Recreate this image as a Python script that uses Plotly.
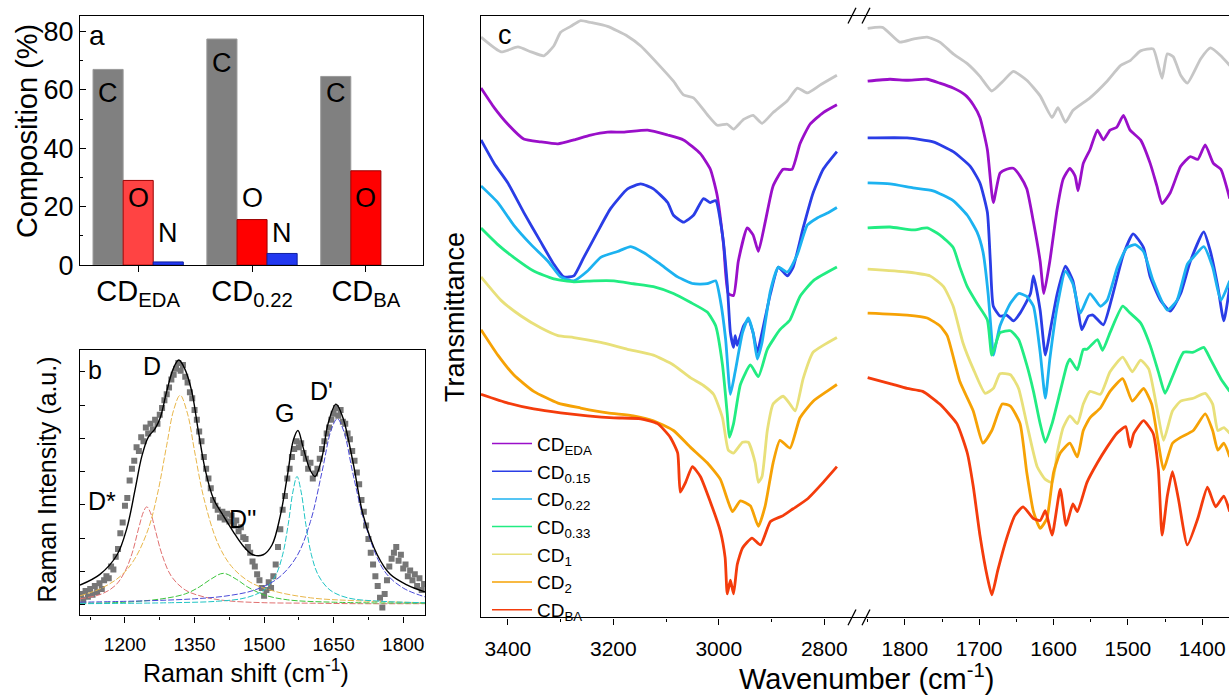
import plotly.graph_objects as go

W, H = 1229, 695
FONT = "Liberation Sans, Arial, sans-serif"

def PX(x):
    return x / W

def PY(y):
    return 1 - y / H

# ---------------- Panel a : elemental composition ----------------
SAMPLES = ["CD_EDA", "CD_0.22", "CD_BA"]
SAMPLE_TEXT = ["CD<sub>EDA</sub>", "CD<sub>0.22</sub>", "CD<sub>BA</sub>"]
C_PCT = [67.0, 77.4, 64.6]
O_PCT = [29.0, 15.6, 32.3]
N_PCT = [1.1, 4.0, 0.0]
O_COLORS = ["#ff4343", "#ff0000", "#ff0000"]

# ---------------- Panel b : Raman ----------------
RAMAN_SHIFT = list(range(1105, 1850, 5))
RAMAN_INT = [22, 16, 25, 19, 27, 21, 30, 24, 33, 27, 36, 40, 38, 50, 47, 60, 68, 84, 95, 112,
             120, 138, 150, 158, 172, 168, 182, 178, 192, 186, 196, 190, 200, 196, 205, 212, 220, 226, 233, 241,
             246, 252, 258, 250, 256, 244, 238, 228, 222, 210, 200, 188, 178, 162, 150, 140, 130, 118, 112, 108,
             100, 106, 98, 104, 96, 102, 92, 97, 86, 90, 80, 78, 70, 64, 55, 50, 42, 36, 28, 20,
             26, 34, 28, 40, 52, 70, 88, 108, 122, 140, 150, 162, 170, 178, 172, 176, 166, 160, 150, 156,
             140, 145, 150, 160, 170, 178, 186, 192, 200, 206, 212, 204, 210, 198, 196, 186, 180, 168, 158, 146,
             134, 118, 106, 92, 78, 64, 52, 40, 30, 18, 8, 22, 36, 50, 58, 64, 70, 56, 62, 48,
             52, 40, 46, 36, 42, 30, 38, 26, 32]
assert len(RAMAN_SHIFT) == len(RAMAN_INT)

FIT_X = [1103, 1146, 1183, 1204, 1222, 1236, 1250, 1265, 1276, 1290, 1304, 1316, 1329, 1344, 1358, 1373,
         1391, 1412, 1433, 1455, 1476, 1498, 1517, 1535, 1550, 1563, 1573, 1584, 1599, 1610, 1625, 1638,
         1655, 1670, 1692, 1714, 1744, 1772, 1809, 1847]
FIT_Y = [31, 42, 62, 89, 129, 162, 182, 191, 202, 229, 252, 261, 252, 229, 189, 149,
         119, 102, 86, 71, 62, 62, 72, 102, 142, 179, 189, 172, 149, 142, 162, 196,
         216, 202, 156, 102, 62, 42, 31, 24]

DSTAR_X = [1103, 1150, 1180, 1200, 1215, 1230, 1240, 1247, 1255, 1265, 1280, 1300, 1330, 1370, 1420, 1500, 1600, 1700, 1847]
DSTAR_Y = [17, 22, 31, 45, 63, 90, 106, 111, 105, 88, 62, 40, 26, 19, 15, 13, 12.5, 12, 12]
D_X = [1103, 1150, 1190, 1220, 1250, 1270, 1290, 1305, 1319, 1335, 1350, 1370, 1400, 1430, 1470, 1520, 1600, 1700, 1847]
D_Y = [20, 28, 40, 57, 88, 124, 174, 210, 225, 206, 168, 120, 74, 50, 34, 25, 18, 15, 13]
DDP_X = [1103, 1200, 1280, 1330, 1360, 1385, 1412, 1440, 1465, 1500, 1550, 1650, 1847]
DDP_Y = [12.5, 13.5, 17, 22, 29, 37, 43, 37, 29, 21, 16, 13.5, 12.5]
G_X = [1103, 1300, 1400, 1460, 1500, 1525, 1540, 1552, 1562, 1571, 1580, 1590, 1602, 1617, 1642, 1680, 1750, 1847]
G_Y = [12, 13, 14.5, 18, 26, 41, 62, 93, 126, 142, 126, 93, 62, 41, 26, 18, 14.5, 13]
DP_X = [1103, 1250, 1350, 1420, 1480, 1530, 1570, 1600, 1625, 1645, 1658, 1672, 1692, 1720, 1760, 1800, 1847]
DP_Y = [13.5, 15, 17, 20, 26, 38, 60, 96, 147, 190, 201, 188, 144, 90, 45, 28, 19]

# ---------------- Panel c : FTIR ----------------
GRAY_L_WN = [3451, 3413, 3381, 3356, 3332, 3313, 3300, 3281, 3262, 3243, 3211, 3173, 3148, 3116, 3086, 3067, 3048,
             3022, 3003, 2984, 2972, 2953, 2935, 2918, 2897, 2870, 2851, 2832, 2808, 2776]
GRAY_L_T = [593, 578, 583, 578, 574, 584, 598, 604, 610, 608, 604, 594, 584, 566, 548, 534, 531,
            514, 503, 504, 499, 509, 513, 505, 516, 528, 541, 536, 544, 554]
GRAY_R_WN = [1850, 1830, 1807, 1789, 1770, 1753, 1735, 1716, 1699, 1683, 1668, 1654, 1636, 1618, 1602, 1594, 1584,
             1574, 1551, 1528, 1510, 1497, 1483, 1466, 1459, 1454, 1447, 1439, 1429, 1420, 1402, 1389, 1375, 1363]
GRAY_R_T = [602, 603, 588, 591, 593, 588, 576, 566, 553, 538, 548, 558, 549, 533, 511, 521, 506,
            518, 531, 548, 564, 569, 579, 581, 564, 551, 576, 573, 554, 546, 571, 582, 574, 564]

EDA_L_WN = [3451, 3426, 3400, 3370, 3338, 3305, 3275, 3243, 3211, 3181, 3135, 3097, 3067, 3035, 3016, 3003, 2991,
            2982, 2972, 2963, 2946, 2935, 2925, 2912, 2897, 2878, 2861, 2846, 2827, 2802, 2776]
EDA_L_T = [541, 521, 504, 489, 486, 484, 488, 493, 496, 496, 498, 493, 488, 474, 458, 431, 381,
           331, 329, 364, 398, 391, 374, 404, 441, 458, 458, 484, 504, 516, 524]
EDA_R_WN = [1850, 1820, 1797, 1770, 1753, 1735, 1719, 1708, 1699, 1689, 1681, 1672, 1663, 1654, 1645, 1636, 1627,
            1618, 1613, 1605, 1595, 1587, 1578, 1571, 1567, 1560, 1551, 1541, 1533, 1524, 1515, 1506, 1497, 1483,
            1470, 1461, 1454, 1443, 1429, 1416, 1406, 1396, 1385, 1375, 1363]
EDA_R_T = [548, 550, 549, 550, 546, 541, 534, 524, 511, 478, 424, 454, 458, 459, 451, 438, 404,
           364, 331, 364, 418, 448, 459, 451, 436, 464, 478, 498, 488, 498, 501, 513, 498, 488,
           464, 441, 423, 434, 461, 471, 468, 483, 464, 458, 428]

B015_L_WN = [3451, 3426, 3400, 3370, 3338, 3313, 3294, 3275, 3256, 3230, 3205, 3173, 3148, 3124, 3097, 3086, 3067,
             3048, 3029, 3016, 3006, 2993, 2984, 2978, 2972, 2969, 2965, 2953, 2944, 2935, 2927, 2918, 2902, 2887,
             2870, 2859, 2840, 2821, 2802, 2776]
B015_L_T = [488, 464, 444, 414, 384, 361, 348, 349, 368, 394, 418, 438, 443, 438, 424, 411, 404,
            411, 428, 424, 426, 391, 341, 291, 276, 288, 278, 298, 304, 291, 271, 291, 331, 358,
            349, 358, 398, 434, 458, 476]
B015_R_WN = [1850, 1797, 1762, 1735, 1712, 1699, 1689, 1685, 1681, 1672, 1663, 1654, 1645, 1631, 1627, 1618, 1611,
             1605, 1595, 1584, 1574, 1567, 1562, 1553, 1547, 1533, 1520, 1506, 1493, 1479, 1470, 1456, 1443, 1429,
             1416, 1398, 1389, 1379, 1371, 1363]
B015_R_T = [490, 490, 486, 476, 461, 444, 414, 364, 318, 308, 309, 303, 311, 331, 349, 314, 268,
            291, 331, 359, 344, 314, 294, 308, 309, 299, 331, 371, 392, 378, 348, 324, 313, 331,
            364, 394, 374, 338, 303, 338]

B022_L_WN = [3451, 3419, 3389, 3356, 3324, 3300, 3275, 3249, 3224, 3192, 3167, 3143, 3111, 3078, 3048, 3022, 3006,
             2997, 2987, 2978, 2969, 2955, 2944, 2935, 2927, 2918, 2902, 2887, 2870, 2851, 2832, 2814, 2795, 2776]
B022_L_T = [441, 424, 401, 381, 364, 348, 344, 354, 368, 374, 379, 373, 361, 348, 341, 341, 344,
            324, 284, 228, 251, 291, 306, 291, 264, 281, 334, 358, 353, 371, 401, 408, 413, 419]
B022_R_WN = [1850, 1820, 1789, 1762, 1735, 1716, 1703, 1695, 1688, 1683, 1681, 1672, 1658, 1647, 1636, 1627, 1618,
             1611, 1605, 1595, 1584, 1574, 1564, 1551, 1537, 1528, 1514, 1501, 1490, 1479, 1466, 1447, 1434, 1420,
             1412, 1398, 1386, 1375, 1363]
B022_R_T = [444, 443, 439, 436, 426, 411, 394, 374, 331, 284, 268, 298, 321, 331, 328, 318, 271,
            224, 264, 318, 354, 341, 311, 331, 318, 324, 358, 378, 381, 374, 344, 314, 324, 361,
            368, 379, 358, 324, 344]

B033_L_WN = [3451, 3419, 3389, 3351, 3313, 3275, 3237, 3199, 3162, 3124, 3086, 3054, 3022, 3006, 2993, 2984, 2980,
             2972, 2959, 2940, 2925, 2908, 2884, 2865, 2846, 2821, 2776]
B033_L_T = [398, 381, 368, 354, 346, 343, 344, 344, 341, 338, 331, 322, 312, 298, 258, 208, 184,
            198, 238, 258, 246, 274, 294, 304, 328, 344, 358]
B033_R_WN = [1850, 1820, 1789, 1770, 1753, 1735, 1726, 1716, 1703, 1689, 1683, 1672, 1658, 1647, 1636, 1627, 1618,
             1611, 1602, 1591, 1582, 1578, 1568, 1560, 1555, 1541, 1534, 1524, 1507, 1497, 1483, 1470, 1459, 1450,
             1439, 1425, 1412, 1398, 1389, 1375, 1363]
B033_R_T = [398, 399, 396, 398, 391, 378, 358, 338, 321, 304, 268, 291, 293, 284, 258, 231, 198,
            179, 198, 231, 258, 264, 253, 274, 274, 284, 273, 291, 318, 311, 301, 278, 251, 229,
            248, 271, 271, 276, 264, 244, 231]

CD1_L_WN = [3451, 3413, 3375, 3338, 3305, 3275, 3224, 3173, 3124, 3086, 3054, 3029, 3010, 2993, 2982, 2972, 2955,
            2944, 2931, 2925, 2918, 2908, 2897, 2878, 2865, 2855, 2840, 2821, 2802, 2776]
CD1_L_T = [348, 324, 308, 296, 288, 286, 281, 274, 268, 258, 245, 237, 228, 204, 171, 168, 179,
           179, 158, 138, 144, 191, 218, 226, 218, 211, 244, 271, 278, 286]
CD1_R_WN = [1850, 1797, 1766, 1748, 1735, 1722, 1708, 1692, 1681, 1672, 1658, 1647, 1636, 1622, 1611, 1602, 1595,
            1587, 1578, 1568, 1560, 1551, 1537, 1524, 1507, 1494, 1483, 1472, 1461, 1452, 1440, 1429, 1412, 1396,
            1386, 1379, 1371, 1363]
CD1_R_T = [356, 353, 349, 338, 318, 281, 254, 229, 234, 249, 248, 234, 198, 154, 141, 138, 168,
           194, 206, 198, 218, 231, 228, 251, 266, 251, 263, 254, 214, 181, 211, 221, 224, 229,
           218, 191, 194, 188]

CD2_L_WN = [3451, 3419, 3389, 3351, 3305, 3262, 3211, 3162, 3124, 3086, 3054, 3022, 2997, 2984, 2974, 2959, 2940,
            2925, 2912, 2897, 2884, 2865, 2846, 2821, 2795, 2776]
CD2_L_T = [294, 268, 248, 231, 219, 214, 209, 206, 201, 191, 174, 158, 141, 121, 108, 119, 114,
           93, 114, 158, 181, 173, 204, 221, 231, 238]
CD2_R_WN = [1850, 1797, 1770, 1753, 1743, 1726, 1708, 1695, 1683, 1669, 1658, 1645, 1636, 1627, 1618, 1609, 1600,
            1591, 1578, 1568, 1560, 1551, 1537, 1524, 1507, 1494, 1479, 1468, 1459, 1452, 1440, 1429, 1412, 1396,
            1386, 1379, 1371, 1363]
CD2_R_T = [311, 309, 306, 298, 288, 241, 211, 178, 191, 218, 216, 198, 148, 108, 91, 101, 148,
           168, 178, 164, 191, 204, 214, 231, 244, 221, 234, 218, 178, 151, 178, 184, 191, 208,
           191, 171, 178, 164]

BA_L_WN = [3451, 3400, 3351, 3300, 3249, 3199, 3148, 3116, 3092, 3078, 3073, 3063, 3050, 3035, 3016, 2997, 2988,
           2984, 2978, 2972, 2965, 2955, 2937, 2921, 2902, 2878, 2859, 2832, 2802, 2776]
BA_L_T = [228, 219, 213, 209, 206, 204, 203, 198, 184, 168, 128, 138, 154, 144, 118, 88, 61,
          24, 38, 24, 54, 71, 81, 74, 98, 104, 111, 121, 138, 154]
BA_R_WN = [1850, 1820, 1797, 1776, 1753, 1730, 1716, 1708, 1699, 1689, 1683, 1675, 1663, 1652, 1641, 1627, 1618,
           1611, 1602, 1591, 1583, 1574, 1568, 1555, 1541, 1528, 1515, 1503, 1497, 1492, 1479, 1466, 1459, 1454,
           1447, 1440, 1432, 1420, 1406, 1393, 1382, 1371, 1363]
BA_R_T = [245, 239, 234, 231, 218, 198, 168, 134, 84, 41, 23, 48, 81, 104, 113, 101, 99,
          109, 84, 131, 94, 116, 108, 138, 158, 174, 188, 195, 174, 188, 201, 188, 151, 84,
          124, 149, 121, 74, 101, 133, 113, 124, 108]

FTIR_NAMES = ["CD<sub>EDA</sub>", "CD<sub>0.15</sub>", "CD<sub>0.22</sub>", "CD<sub>0.33</sub>",
              "CD<sub>1</sub>", "CD<sub>2</sub>", "CD<sub>BA</sub>"]
FTIR_COLORS = ["#9a0fc9", "#2a3de6", "#1cb2f0", "#22ec82", "#e8e07a", "#f6a205", "#f43c0c"]
FTIR_SERIES = [
    (EDA_L_WN, EDA_L_T, EDA_R_WN, EDA_R_T),
    (B015_L_WN, B015_L_T, B015_R_WN, B015_R_T),
    (B022_L_WN, B022_L_T, B022_R_WN, B022_R_T),
    (B033_L_WN, B033_L_T, B033_R_WN, B033_R_T),
    (CD1_L_WN, CD1_L_T, CD1_R_WN, CD1_R_T),
    (CD2_L_WN, CD2_L_T, CD2_R_WN, CD2_R_T),
    (BA_L_WN, BA_L_T, BA_R_WN, BA_R_T),
]

fig = go.Figure()

# ---- panel a bars
fig.add_trace(go.Bar(x=SAMPLES, y=C_PCT, marker=dict(color="#808080", line=dict(color="#9a9a9a", width=1)),
                     xaxis="x", yaxis="y", showlegend=False))
fig.add_trace(go.Bar(x=SAMPLES, y=O_PCT, marker=dict(color=O_COLORS, line=dict(color="#9a0000", width=1)),
                     xaxis="x", yaxis="y", showlegend=False))
fig.add_trace(go.Bar(x=SAMPLES, y=N_PCT,
                     marker=dict(color="#2238f0", line=dict(color="#1020a0", width=[1 if v > 0 else 0 for v in N_PCT])),
                     xaxis="x", yaxis="y", showlegend=False))

# ---- panel b Raman
fig.add_trace(go.Scatter(x=RAMAN_SHIFT, y=RAMAN_INT, mode="markers",
                         marker=dict(symbol="square", size=6, color="#767676"),
                         xaxis="x2", yaxis="y2", showlegend=False))
for cx, cy, col in [(DSTAR_X, DSTAR_Y, "#e07070"), (D_X, D_Y, "#e8b64a"), (DDP_X, DDP_Y, "#3cc43c"),
                    (G_X, G_Y, "#20c4c4"), (DP_X, DP_Y, "#4a4ad8")]:
    fig.add_trace(go.Scatter(x=cx, y=cy, mode="lines", line=dict(color=col, width=1, dash="6px,2px", shape="spline"),
                             xaxis="x2", yaxis="y2", showlegend=False))
fig.add_trace(go.Scatter(x=FIT_X, y=FIT_Y, mode="lines", line=dict(color="black", width=1.4, shape="spline"),
                         xaxis="x2", yaxis="y2", showlegend=False))

# ---- panel c FTIR
LINE_W = 2.8
fig.add_trace(go.Scatter(x=GRAY_L_WN, y=GRAY_L_T, mode="lines",
                         line=dict(color="#c6c6c6", width=LINE_W, shape="spline", smoothing=0.5),
                         xaxis="x3", yaxis="y3", showlegend=False))
fig.add_trace(go.Scatter(x=GRAY_R_WN, y=GRAY_R_T, mode="lines",
                         line=dict(color="#c6c6c6", width=LINE_W, shape="spline", smoothing=0.5),
                         xaxis="x4", yaxis="y4", showlegend=False))
for (lw, lt, rw, rt), col in zip(FTIR_SERIES, FTIR_COLORS):
    fig.add_trace(go.Scatter(x=lw, y=lt, mode="lines", line=dict(color=col, width=LINE_W, shape="spline", smoothing=0.5),
                             xaxis="x3", yaxis="y3", showlegend=False))
    fig.add_trace(go.Scatter(x=rw, y=rt, mode="lines", line=dict(color=col, width=LINE_W, shape="spline", smoothing=0.5),
                             xaxis="x4", yaxis="y4", showlegend=False))
for name, col in zip(FTIR_NAMES, FTIR_COLORS):
    fig.add_trace(go.Scatter(x=[None], y=[None], mode="lines", name=name, line=dict(color=col, width=1.5),
                             xaxis="x3", yaxis="y3", showlegend=True))

axis_common = dict(showline=True, linecolor="black", linewidth=1.3, showgrid=False, zeroline=False,
                   ticks="outside", tickcolor="black", ticklen=6, tickwidth=1.2)

# annotations
ann = []
def add_text(text, x, y, size, angle=0, **kw):
    ann.append(dict(text=text, x=PX(x), y=PY(y), xref="paper", yref="paper", showarrow=False,
                    font=dict(family=FONT, size=size, color="black"), textangle=angle,
                    xanchor="center", yanchor="middle", **kw))

# panel a bar letters (placed on the bars via the data axes)
LABEL_Y = {"C": [59, 69.3, 59], "O": [23, 23, 23], "N": [11, 11, None]}
SHIFT = {"C": -30, "O": 0, "N": 30}
for el in ["C", "O", "N"]:
    for i, s in enumerate(SAMPLES):
        if LABEL_Y[el][i] is None:
            continue
        ann.append(dict(text=el, x=s, y=LABEL_Y[el][i], xref="x", yref="y", xshift=SHIFT[el], showarrow=False,
                        font=dict(family=FONT, size=27, color="black"), xanchor="center", yanchor="middle"))

add_text("a", 97, 36, 28)
add_text("Composition (%)", 27, 134, 29, angle=-90)
add_text("b", 95, 378, 25)
add_text("D", 152, 374, 25)
add_text("D*", 102, 512, 25)
add_text("D''", 243, 530, 25)
add_text("G", 284, 422, 25)
add_text("D'", 321, 400, 25)
add_text("Raman Intensity (a.u.)", 47, 490, 25, angle=-90)
add_text("Raman shift (cm<sup>-1</sup>)", 246, 686, 25)
add_text("c", 505, 36, 27)
add_text("Transmittance", 455, 324, 27, angle=-90)
add_text("Wavenumber (cm<sup>-1</sup>)", 866, 692, 29)

# axis-break marks
shapes = []
for (x0, x1) in [(848, 856), (862, 870)]:
    for yc in [631, 16]:
        shapes.append(dict(type="line", xref="paper", yref="paper", x0=PX(x0), x1=PX(x1),
                           y0=PY(yc + 8), y1=PY(yc - 8), line=dict(color="black", width=1.3)))

fig.update_layout(
    width=W, height=H, margin=dict(l=0, r=0, t=0, b=0),
    paper_bgcolor="white", plot_bgcolor="white",
    font=dict(family=FONT, color="black"),
    barmode="group", bargap=0.207, bargroupgap=0,
    xaxis=dict(axis_common, domain=[PX(80), PX(423)], anchor="y", type="category",
               range=[-0.511, 2.502], tickvals=SAMPLES, ticktext=SAMPLE_TEXT, mirror=True,
               tickfont=dict(size=29, family=FONT), ticklabelstandoff=-6),
    yaxis=dict(axis_common, domain=[PY(271), PY(16)], anchor="x", range=[0, 85.4], dtick=20, mirror=True,
               ticks="inside", tickfont=dict(size=27, family=FONT),
               minor=dict(dtick=10, ticklen=3, ticks="inside", tickcolor="black")),
    xaxis2=dict(axis_common, domain=[PX(80), PX(425)], anchor="y2", range=[1103, 1847], dtick=150, tick0=0,
                mirror=True, tickfont=dict(size=19, family=FONT), ticklabelstandoff=6,
                minor=dict(dtick=75, tick0=0, ticklen=3, ticks="outside", tickcolor="black")),
    yaxis2=dict(axis_common, domain=[PY(629), PY(358)], anchor="x2", range=[0, 271], tick0=45, dtick=34,
                ticks="inside", ticklen=5, showticklabels=False, mirror=True),
    xaxis3=dict(axis_common, domain=[PX(481), PX(858)], anchor="y3", range=[3451, 2736], dtick=200, tick0=0,
                mirror=True, tickfont=dict(size=21, family=FONT), ticklabelstandoff=6,
                minor=dict(dtick=100, tick0=0, ticklen=3, ticks="outside", tickcolor="black")),
    yaxis3=dict(showline=True, linecolor="black", linewidth=1.3, showgrid=False, zeroline=False,
                domain=[PY(631), PY(16)], anchor="x3", range=[0, 615], showticklabels=False, ticks=""),
    xaxis4=dict(axis_common, domain=[PX(858), 1.0], anchor="y4", range=[1863, 1364], dtick=100, tick0=0,
                mirror=True, tickfont=dict(size=21, family=FONT), ticklabelstandoff=6,
                minor=dict(dtick=50, tick0=0, ticklen=3, ticks="outside", tickcolor="black")),
    yaxis4=dict(showline=False, showgrid=False, zeroline=False, domain=[PY(631), PY(16)], anchor="x4",
                range=[0, 615], showticklabels=False, ticks=""),
    legend=dict(x=PX(487), y=PY(434), xanchor="left", yanchor="top", bgcolor="rgba(0,0,0,0)",
                font=dict(family=FONT, size=19, color="black"), tracegroupgap=0, itemwidth=40),
    annotations=ann, shapes=shapes,
)

fig.write_html("out.html")
